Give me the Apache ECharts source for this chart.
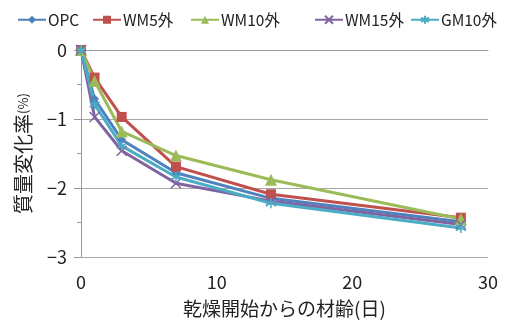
<!DOCTYPE html>
<html><head><meta charset="utf-8">
<script src="https://cdn.jsdelivr.net/npm/echarts@6/dist/echarts.min.js"></script>
<style>html,body{margin:0;padding:0;background:#fff}#c{width:507px;height:320px}</style>
</head><body><div id="c"></div>
<script>
const days = [0, 1, 3, 7, 14, 28];
const seriesNames = ['OPC', 'WM5外', 'WM10外', 'WM15外', 'GM10外'];
const opc   = [0, -0.71, -1.30, -1.78, -2.15, -2.49];
const wm5   = [0, -0.40, -0.97, -1.69, -2.09, -2.43];
const wm10  = [0, -0.45, -1.18, -1.53, -1.88, -2.45];
const wm15  = [0, -0.97, -1.46, -1.93, -2.19, -2.53];
const gm10  = [0, -0.79, -1.39, -1.84, -2.22, -2.58];
const xTicks = [0, 10, 20, 30];
const yTicks = [-3, -2, -1, 0];

const FONT = '"Noto Sans CJK JP","Noto Sans",sans-serif';
const colors = ['#4F81BD', '#C0504D', '#9BBB59', '#8064A2', '#4BACC6'];
const symbols = ['diamond', 'rect', 'triangle',
  'path://M0,0L10,10M10,0L0,10',
  'path://M5,0L5,10M0,2.5L10,7.5M0,7.5L10,2.5'];
const sizes = [9, 10, 12, 10, 10];
const values = [opc, wm5, wm10, wm15, gm10];
const legendLeft = [17, 92, 190, 314, 410];

const chart = echarts.init(document.getElementById('c'), null, {renderer: 'canvas'});
chart.setOption({
  animation: false,
  textStyle: {fontFamily: FONT},
  legend: seriesNames.map((n, i) => ({
    top: 12, left: legendLeft[i], itemWidth: 28, itemHeight: 10, padding: 0,
    textStyle: {fontFamily: FONT, fontSize: 15.5, color: '#222', padding: [0, 0, 0, -3]},
    data: [n]
  })),
  grid: {left: 81, right: 19, top: 50, bottom: 63, outerBoundsMode: 'none', containLabel: false},
  xAxis: {
    type: 'value', min: 0, max: 30, interval: 10,
    name: '乾燥開始からの材齢(日)', nameLocation: 'middle', nameGap: 42,
    nameTextStyle: {fontFamily: FONT, fontSize: 19, color: '#222'},
    axisLine: {show: true, lineStyle: {color: '#9a9a9a', width: 1}},
    axisTick: {show: false},
    splitLine: {show: false},
    axisLabel: {fontFamily: FONT, fontSize: 18, color: '#222', margin: 16,
      formatter: v => xTicks.includes(v) ? String(v) : ''}
  },
  yAxis: {
    type: 'value', min: -3, max: 0, interval: 1,
    name: '{a|質量変化率}{b|(%)}', nameLocation: 'middle', nameGap: 48, nameRotate: 90,
    nameTextStyle: {rich: {
      a: {fontFamily: FONT, fontSize: 20, color: '#222'},
      b: {fontFamily: FONT, fontSize: 13, color: '#222'}
    }},
    axisLine: {show: true, lineStyle: {color: '#9a9a9a', width: 1}},
    axisTick: {show: true, length: 7, lineStyle: {color: '#9a9a9a'}},
    minorTick: {show: true, splitNumber: 2, length: 4, lineStyle: {color: '#9a9a9a'}},
    splitLine: {show: true, lineStyle: {color: '#a8a8a8', width: 1}},
    axisLabel: {fontFamily: FONT, fontSize: 18, color: '#222', margin: 14,
      formatter: v => yTicks.includes(v) ? (v < 0 ? '\u2212' + Math.abs(v) : String(v)) : ''}
  },
  series: seriesNames.map((n, i) => ({
    name: n, type: 'line',
    data: days.map((d, j) => [d, values[i][j]]),
    symbol: symbols[i], symbolSize: sizes[i],
    showAllSymbol: true,
    lineStyle: {color: colors[i], width: 3},
    itemStyle: {color: colors[i], borderColor: colors[i], borderWidth: i >= 3 ? 1.5 : 0}
  }))
});
</script></body></html>
